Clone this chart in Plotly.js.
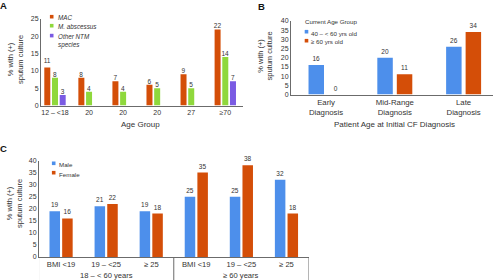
<!DOCTYPE html>
<html>
<head>
<meta charset="utf-8">
<script src="https://cdn.plot.ly/plotly-3.0.1.min.js"></script>
<style>html,body{margin:0;padding:0;background:#fff;}#chart{width:495px;height:280px;}</style>
</head>
<body>
<div id="chart"></div>
<script>
// ---- Data ----
const ageGroups = ["12 – <18", "20", "20", "20", "27", "≥70"];
const macVals = [11, 8, 7, 6, 9, 22];
const mabsVals = [8, 4, 4, 5, 5, 14];
const otherNtmVals = [3, null, null, null, null, 7];

const diagCats = ["Early<br>Diagnosis", "Mid-Range<br>Diagnosis", "Late<br>Diagnosis"];
const age40to60 = [16, 20, 26];
const age60plus = [0, 11, 34];

const bmiCats = ["BMI <19", "19 – <25", "≥ 25", "BMI <19", "19 – <25", "≥ 25"];
const ageBands = ["18 – < 60 years", "≥ 60 years"];
const maleVals = [19, 21, 19, 25, 25, 32];
const femaleVals = [16, 22, 18, 35, 38, 18];

const legendA = ["MAC", "M. abscessus", "Other NTM<br>species"];
const legendB = ["40 – < 60 yrs old", "≥ 60 yrs old"];
const legendC = ["Male", "Female"];
const yTitle = "% with (+)<br>sputum culture";

// ---- Styles ----
const W = 495, H = 280;
const FONT = "Liberation Sans, Arial, sans-serif";
const TXT = "#333333";
const ORANGE = "#D44E08", GREEN = "#8FD83C", PURPLE = "#7A5BE3", BLUE = "#4D8FEB";
const px = x => x / W;
const py = y => 1 - y / H;
const idx = arr => arr.map((_, i) => i);

function barTrace(xa, ya, vals, color, width, offset) {
  return {
    type: "bar", xaxis: xa, yaxis: ya,
    x: idx(vals), y: vals,
    width: width, offset: offset,
    marker: {color: color, line: {width: 0}},
    text: vals.map(v => v === null ? "" : String(v)),
    textposition: "outside", constraintext: "none", cliponaxis: false,
    textfont: {family: FONT, size: 6.5, color: TXT},
    showlegend: false, hoverinfo: "skip"
  };
}

const data = [
  barTrace("x", "y", macVals, ORANGE, 0.176, -0.314),
  barTrace("x", "y", mabsVals, GREEN, 0.176, -0.088),
  barTrace("x", "y", otherNtmVals, PURPLE, 0.176, 0.138),
  barTrace("x2", "y2", age40to60, BLUE, 0.225, -0.2544),
  barTrace("x2", "y2", age60plus, ORANGE, 0.225, 0.029),
  barTrace("x3", "y3", maleVals, BLUE, 0.233, -0.257),
  barTrace("x3", "y3", femaleVals, ORANGE, 0.233, 0.024)
];

const axisBase = {
  showgrid: false, zeroline: false, showline: true, linecolor: "#6b6b6b", linewidth: 1,
  ticks: "", fixedrange: true, tickfont: {family: FONT, size: 7, color: TXT}
};

const layout = {
  width: W, height: H,
  margin: {l: 0, r: 0, t: 0, b: 0},
  paper_bgcolor: "#ffffff", plot_bgcolor: "rgba(0,0,0,0)",
  barmode: "overlay", showlegend: false,
  font: {family: FONT, color: TXT},
  xaxis: Object.assign({}, axisBase, {
    domain: [px(41), px(243)], anchor: "y", range: [-0.411, 5.52],
    tickvals: idx(ageGroups), ticktext: ageGroups
  }),
  yaxis: Object.assign({}, axisBase, {
    domain: [py(105.5), py(19)], anchor: "x", range: [0, 25], dtick: 5
  }),
  xaxis2: Object.assign({}, axisBase, {
    domain: [px(291), px(493)], anchor: "y2", range: [-0.509, 2.427],
    tickvals: idx(diagCats), ticktext: diagCats,
    tickfont: {family: FONT, size: 7.8, color: TXT}
  }),
  yaxis2: Object.assign({}, axisBase, {
    domain: [py(94.5), py(21)], anchor: "x2", range: [0, 40], dtick: 5
  }),
  xaxis3: Object.assign({}, axisBase, {
    domain: [px(39), px(309)], anchor: "y3", range: [-0.49, 5.5],
    tickvals: idx(bmiCats), ticktext: bmiCats,
    tickfont: {family: FONT, size: 7.6, color: TXT}
  }),
  yaxis3: Object.assign({}, axisBase, {
    domain: [py(257), py(160.5)], anchor: "x3", range: [0, 40], dtick: 5
  }),
  shapes: [],
  annotations: []
};

const ann = (o) => Object.assign({showarrow: false, xref: "paper", yref: "paper",
  xanchor: "center", yanchor: "middle",
  font: {family: FONT, size: 8, color: TXT}}, o);

// Panel letters
layout.annotations.push(ann({text: "<b>A</b>", x: px(3.5), y: py(5.5), font: {family: FONT, size: 9.5, color: "#111"}}));
layout.annotations.push(ann({text: "<b>B</b>", x: px(261.5), y: py(6.7), font: {family: FONT, size: 9.5, color: "#111"}}));
layout.annotations.push(ann({text: "<b>C</b>", x: px(3.5), y: py(148.3), font: {family: FONT, size: 9.5, color: "#111"}}));

// Y titles
layout.annotations.push(ann({text: yTitle, textangle: -90, x: px(15), y: py(60), font: {family: FONT, size: 7.5, color: TXT}}));
layout.annotations.push(ann({text: yTitle, textangle: -90, x: px(265.5), y: py(56), font: {family: FONT, size: 7.5, color: TXT}}));
layout.annotations.push(ann({text: yTitle, textangle: -90, x: px(14), y: py(204), font: {family: FONT, size: 7.5, color: TXT}}));

// X titles
layout.annotations.push(ann({text: "Age Group", x: px(140), y: py(125), font: {family: FONT, size: 8, color: TXT}}));
layout.annotations.push(ann({text: "Patient Age at Initial CF Diagnosis", x: px(394), y: py(124.3), font: {family: FONT, size: 8, color: TXT}}));

// C group labels
ageBands.forEach((t, i) => {
  layout.annotations.push(ann({text: t, xref: "x3", x: 1 + 3 * i, y: py(275.3), font: {family: FONT, size: 7.6, color: TXT}}));
});
// C separators
[-0.5, 2.5, 5.5].forEach(xv => {
  layout.shapes.push({type: "line", xref: "x3", yref: "paper", x0: xv, x1: xv, y0: py(257), y1: py(282),
    line: {color: "#6b6b6b", width: 1}});
});

// Legends (squares + text)
function legendItems(items, colors, mx, tx, ys, size, italic) {
  items.forEach((t, i) => {
    const s = 1.8;
    layout.shapes.push({type: "rect", xref: "paper", yref: "paper",
      x0: px(mx - s), x1: px(mx + s), y0: py(ys[i] + s), y1: py(ys[i] - s),
      fillcolor: colors[i], line: {width: 0}});
    layout.annotations.push(ann({text: italic ? "<i>" + t.replace("<br>", "</i><br><i>") + "</i>" : t,
      x: px(tx), xanchor: "left", y: py(ys[i] - 4.2), yanchor: "top", align: "left",
      font: {family: FONT, size: size, color: TXT}}));
  });
}
legendItems(legendA, [ORANGE, GREEN, PURPLE], 51.7, 56, [16.7, 25.7, 35.6], 6.3, true);
layout.annotations.push(ann({text: "Current Age Group", x: px(302.5), xanchor: "left", y: py(21.7), font: {family: FONT, size: 6.2, color: TXT}}));
legendItems(legendB, [BLUE, ORANGE], 306.5, 308.8, [31.7, 40.7], 6.2, false);
legendItems(legendC, [BLUE, ORANGE], 53.7, 56.5, [163.3, 172.7], 6.2, false);

Plotly.newPlot("chart", data, layout, {staticPlot: true, displayModeBar: false});
</script>
</body>
</html>
